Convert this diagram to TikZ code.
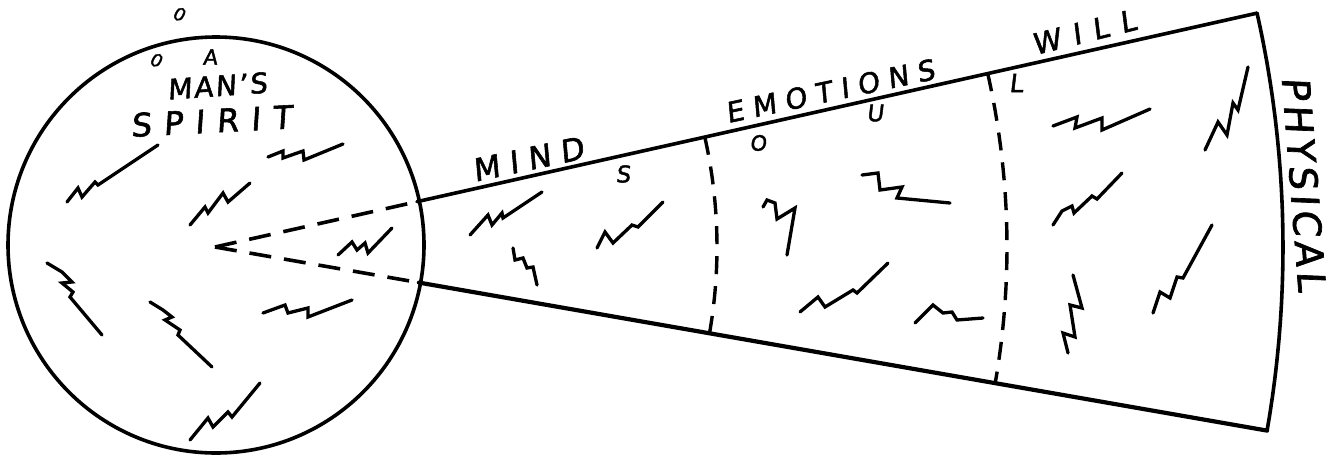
\documentclass[tikz,border=0pt]{standalone}
\usepackage{fontspec}
\setmainfont{DejaVu Sans}[FakeBold=1.8, FakeSlant=0.12]
\usetikzlibrary{calc}
\begin{document}
\begin{tikzpicture}[x=1pt,y=-1pt,
  ink/.style={line width=3.6pt, line cap=round, line join=round},
  dashline/.style={line width=3.6pt, dash pattern=on 22pt off 13pt},
  dasharc/.style={line width=3.4pt, dash pattern=on 18pt off 12pt},
  zig/.style={line width=3.3pt, line cap=round, line join=miter},
  lbl/.style 2 args={inner sep=0pt, font=\fontsize{#1}{#1}\selectfont\addfontfeature{LetterSpace=#2}}]
\useasboundingbox (0,0) rectangle (1329,458);
\fill[white] (0,0) rectangle (1329,458);
% geometry
\coordinate (apex) at (215,247);
\coordinate (ctr) at (216,245);
\coordinate (tA) at ($(apex)+(-12.65:207)$);
\coordinate (tB) at ($(apex)+(-12.65:1068)$);
\coordinate (bA) at ($(apex)+(9.9:207)$);
\coordinate (bB) at ($(apex)+(9.9:1068)$);
% spirit circle
\draw[ink] (ctr) circle[radius=208pt];
% cone
\draw[dashline] (apex) -- (tA);
\draw[dashline] (apex) -- (bA);
\draw[ink] (tA) -- (tB);
\draw[ink, line width=4.2pt] (bA) -- (bB);
\draw[ink] plot[domain=-12.65:9.9, samples=60] ({215+1068*cos(\x)},{247+1068*sin(\x)});
\draw[dasharc] plot[domain=-12.65:9.9, samples=40] ({215+502*cos(\x)},{247+502*sin(\x)});
\draw[dasharc] plot[domain=-12.65:9.9, samples=50] ({215+792*cos(\x)},{247+792*sin(\x)});
% squiggles in the circle
\draw[zig] (67,202) -- (78,188) -- (82,197) -- (95,182) -- (98,185) -- (158,145);
\draw[zig] (268,157) -- (283,151) -- (283,158) -- (303,151) -- (304,160) -- (343,144);
\draw[zig] (190,225) -- (205,207) -- (208,213) -- (223,193) -- (228,202) -- (250,183);
\draw[zig] (338,255) -- (352,242) -- (357,250) -- (365,243) -- (368,253) -- (392,228);
\draw[zig] (47,263) -- (62,272) -- (72,282) -- (62,283) -- (73,292) -- (70,297) -- (102,335);
\draw[zig] (150,302) -- (163,310) -- (172,317) -- (165,320) -- (180,330) -- (178,335) -- (212,367);
\draw[zig] (263,313) -- (285,305) -- (288,313) -- (308,308) -- (308,317) -- (352,300);
\draw[zig] (190,440) -- (208,418) -- (213,427) -- (228,412) -- (232,417) -- (260,383);
% squiggles in the mind
\draw[zig] (470,235) -- (488,215) -- (492,225) -- (502,213) -- (503,218) -- (542,192);
\draw[zig] (597,248) -- (605,232) -- (613,243) -- (632,225) -- (638,227) -- (663,202);
\draw[zig] (513,248) -- (515,260) -- (523,258) -- (527,268) -- (533,267) -- (537,285);
% squiggles in the emotions
\draw[zig] (763,207) -- (767,200) -- (775,203) -- (777,219) -- (795,208) -- (787,255);
\draw[zig] (862,175) -- (878,173) -- (880,190) -- (902,187) -- (897,198) -- (950,203);
\draw[zig] (800,312) -- (818,297) -- (825,307) -- (853,290) -- (857,293) -- (888,263);
\draw[zig] (915,323) -- (933,305) -- (943,313) -- (952,312) -- (957,320) -- (983,318);
% squiggles in the will
\draw[zig] (1053,126) -- (1077,117) -- (1075,128) -- (1102,118) -- (1102,130) -- (1150,109);
\draw[zig] (1053,225) -- (1062,211) -- (1072,206) -- (1074,213) -- (1092,196) -- (1097,199) -- (1122,173);
\draw[zig] (1205,150) -- (1218,122) -- (1227,135) -- (1233,103) -- (1238,110) -- (1248,67);
\draw[zig] (1073,275) -- (1082,308) -- (1070,305) -- (1075,337) -- (1063,333) -- (1068,353);
\draw[zig] (1153,313) -- (1160,292) -- (1170,298) -- (1177,277) -- (1183,278) -- (1212,225);
% labels
\node[lbl={18}{0}, rotate=-20] (o1) at (179,14) {0};
\node[lbl={18}{0}, rotate=-20] (o2) at (156,60) {0};
\node[lbl={21}{0}] (a) at (210,57) {A};
\node[lbl={28}{8}, rotate=4] (mans) at (217,86) {MAN'S};
\node[lbl={32}{38}, rotate=3] (spirit) at (211,121) {SPIRIT};
\node[lbl={31}{32}, rotate=12] (mind) at (528,159) {MIND};
\node[lbl={23}{0}] (s) at (623,174) {S};
\node[lbl={28}{32}, rotate=12] (emo) at (830,91) {EMOTIONS};
\node[lbl={21}{0}] (o) at (758,143) {O};
\node[lbl={23}{0}] (u) at (875,113) {U};
\node[lbl={25}{0}] (l) at (1016,83) {L};
\node[lbl={29}{42}, rotate=14] (will) at (1084,32) {WILL};
\node[lbl={38}{12}, rotate=-85.5] (phys) at (1304,184) {PHYSICAL};
\end{tikzpicture}
\end{document}
